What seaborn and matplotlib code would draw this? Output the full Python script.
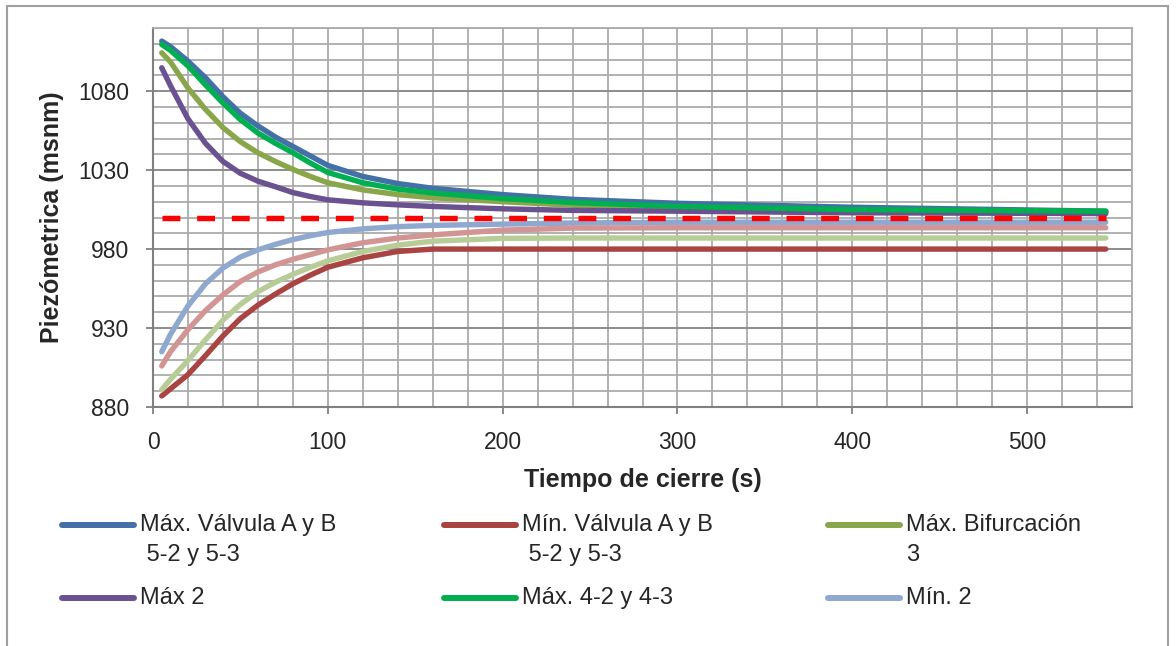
import numpy as np
import pandas as pd
import seaborn as sns
import matplotlib.pyplot as plt
from matplotlib.lines import Line2D
from matplotlib.patches import Rectangle
from matplotlib.ticker import MultipleLocator

# tiempo de cierre (s)
tiempo = [5, 10, 20, 30, 40, 50, 60, 70, 80, 90, 100, 120, 140, 160, 200, 240, 300, 400, 545]

max_valvula = [1111.7, 1108.2, 1099, 1088.5, 1076.5, 1066, 1058, 1051, 1045, 1039, 1033,
               1026, 1021.5, 1018.5, 1014.5, 1011.5, 1009, 1006.5, 1004]
min_valvula = [887, 891.5, 900.5, 912.5, 925, 936, 944.5, 951.5, 958, 963.5, 968.5,
               974.5, 978.5, 980, 980, 980, 980, 980, 980]
max_bifurcacion = [1104.3, 1098.5, 1082, 1068.5, 1057, 1048, 1041, 1035.5, 1030.5, 1026, 1022,
                   1017.5, 1014.5, 1012.5, 1010, 1007.8, 1006, 1004.5, 1003.5]
max_2 = [1094.8, 1083.5, 1062.5, 1047, 1035.5, 1028, 1023, 1019.5, 1015.8, 1013.3, 1011.2,
         1009.3, 1008, 1007, 1005.5, 1004.5, 1004, 1003, 1002.5]
max_4 = [1109.6, 1105.8, 1096, 1084, 1072.5, 1062, 1053.5, 1047, 1041, 1034.5, 1028.5,
         1022, 1018, 1015.5, 1012, 1009.5, 1007, 1005, 1004]
min_2 = [915, 926, 944, 958, 968, 975, 979.5, 983, 986, 988.5, 990.5,
         992.8, 994.2, 995, 995.8, 996.5, 997, 997, 997]
min_rosa = [906, 915, 929, 941, 951, 959.5, 965.5, 970, 973.5, 976.5, 979.5,
            984, 987, 989, 992, 993.3, 993.5, 993.5, 993.5]
min_verde = [891, 897.5, 909.5, 922.5, 935, 945, 953, 959, 964, 968.5, 972.5,
             978.5, 982.5, 985, 986.8, 987, 987, 987, 987]

referencia_x = [5, 545]
referencia_y = [1000, 1000]

yticks = [880, 930, 980, 1030, 1080]
xticks = [0, 100, 200, 300, 400, 500]

series = [
    (max_valvula, '#4470A8'),
    (min_valvula, '#A94442'),
    (max_bifurcacion, '#8AA64A'),
    (max_2, '#6A5190'),
    (max_4, '#00B050'),
    (min_2, '#8EA8D0'),
    (min_rosa, '#D39494'),
    (min_verde, '#B7CC96'),
]

leyenda = [
    ('Máx. Válvula A y B\n 5-2 y 5-3', '#4470A8'),
    ('Mín. Válvula A y B\n 5-2 y 5-3', '#A94442'),
    ('Máx. Bifurcación\n3', '#8AA64A'),
    ('Máx 2', '#6A5190'),
    ('Máx. 4-2 y 4-3', '#00B050'),
    ('Mín. 2', '#8EA8D0'),
]

sns.set_style('white')
plt.rcParams['font.family'] = ['Liberation Sans', 'DejaVu Sans']

fig = plt.figure(figsize=(11.76, 6.46), dpi=100)
ax = fig.add_axes([153 / 1176, 1 - 407 / 646, 979 / 1176, 379 / 646])

for valores, color in series:
    df = pd.DataFrame({'t': tiempo, 'h': valores})
    sns.lineplot(data=df, x='t', y='h', ax=ax, color=color, lw=3.9, legend=False)

sns.lineplot(x=referencia_x, y=referencia_y, ax=ax, color='#FF0000', lw=3.9,
             ls=(0, (3.3, 3.1)), legend=False)

ax.set_xlim(0, 560)
ax.set_ylim(880, 1120)
ax.set_xticks(xticks)
ax.set_yticks(yticks)
ax.xaxis.set_minor_locator(MultipleLocator(20))
ax.yaxis.set_minor_locator(MultipleLocator(10))
ax.grid(which='minor', color='#ABABAB', lw=1.3)
ax.grid(which='major', axis='x', color='#ABABAB', lw=1.3)
ax.grid(which='major', axis='y', color='#8C8C8C', lw=1.4)
ax.set_axisbelow(True)

for lado in ['left', 'bottom']:
    ax.spines[lado].set_color('#808080')
    ax.spines[lado].set_linewidth(1.5)
for lado in ['top', 'right']:
    ax.spines[lado].set_color('#ABABAB')
    ax.spines[lado].set_linewidth(1.3)

ax.tick_params(which='major', direction='out', length=5, width=1.3, color='#808080',
               labelsize=16.5, pad=12, left=True, bottom=True)
ax.tick_params(which='minor', length=0)

ax.set_xlabel('Tiempo de cierre (s)', fontsize=18, fontweight='bold', va='center')
ax.set_ylabel('Piezómetrica (msnm)', fontsize=18, fontweight='bold', va='center')
ax.xaxis.set_label_coords(0.5, -0.193)
ax.yaxis.set_label_coords(-0.103, 0.5)

# leyenda manual en tres columnas
col_x = [62, 444, 828]
fila_y = [525, 598]
for i, (texto, color) in enumerate(leyenda):
    x0 = col_x[i % 3] / 1176
    y0 = 1 - fila_y[i // 3] / 646
    fig.add_artist(Line2D([x0, x0 + 72 / 1176], [y0, y0], color=color, lw=4.3,
                          transform=fig.transFigure))
    for j, linea in enumerate(texto.split('\n')):
        fig.text(x0 + 78 / 1176, y0 - j * 30 / 646, linea, fontsize=17,
                 va='center', ha='left')

fig.add_artist(Rectangle((7 / 1176, -0.01), 1161 / 1176, 1 - 6 / 646 + 0.01,
                         transform=fig.transFigure, fill=False,
                         edgecolor='#A0A0A0', lw=1.5))

fig.savefig('out.png', dpi=100)
